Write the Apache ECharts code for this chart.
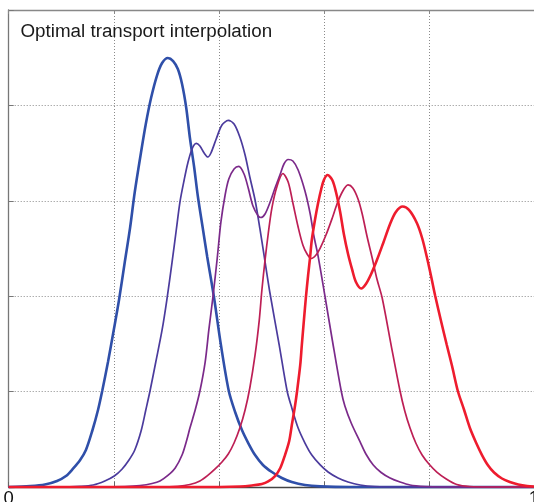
<!DOCTYPE html>
<html>
<head>
<meta charset="utf-8">
<script src="https://cdn.jsdelivr.net/npm/echarts@6/dist/echarts.min.js"></script>
<style>html,body{margin:0;padding:0;background:#fff;}#c{width:534px;height:502px;}</style>
</head>
<body>
<div id="c"></div>
<script>
var titleText = 'Optimal transport interpolation';
var xTickLabels = {0: '0', 1: '1'};

// t = 0 (blue)
var blueX = [0, 0.041, 0.069, 0.092, 0.109, 0.122, 0.136, 0.147, 0.159, 0.170, 0.178, 0.189, 0.200, 0.210, 0.221, 0.231, 0.240, 0.252, 0.261, 0.271, 0.282, 0.292, 0.303, 0.313, 0.322, 0.330, 0.338, 0.345, 0.353, 0.360, 0.370, 0.378, 0.391, 0.404, 0.419, 0.431, 0.444, 0.456, 0.469, 0.484, 0.501, 0.520, 0.539, 0.564, 0.593, 0.650, 1];
var blueY = [0, 0.010, 0.026, 0.063, 0.115, 0.189, 0.283, 0.388, 0.587, 0.807, 1.006, 1.310, 1.646, 1.960, 2.358, 2.715, 3.092, 3.511, 3.805, 4.077, 4.308, 4.444, 4.497, 4.465, 4.381, 4.224, 3.973, 3.658, 3.354, 3.050, 2.694, 2.411, 1.981, 1.488, 1.006, 0.786, 0.597, 0.461, 0.335, 0.231, 0.157, 0.094, 0.052, 0.021, 0.007, 0, 0];

// t = 0.25
var q1X = [0, 0.098, 0.136, 0.161, 0.183, 0.201, 0.216, 0.229, 0.240, 0.252, 0.261, 0.269, 0.280, 0.292, 0.301, 0.311, 0.319, 0.326, 0.334, 0.341, 0.349, 0.357, 0.364, 0.372, 0.379, 0.385, 0.395, 0.406, 0.418, 0.429, 0.440, 0.450, 0.459, 0.469, 0.478, 0.486, 0.497, 0.515, 0.530, 0.539, 0.551, 0.564, 0.577, 0.593, 0.608, 0.627, 0.646, 0.669, 0.697, 0.745, 1];
var q1Y = [0, 0, 0.007, 0.021, 0.063, 0.115, 0.189, 0.283, 0.388, 0.587, 0.807, 1.006, 1.310, 1.646, 1.960, 2.358, 2.694, 2.987, 3.218, 3.396, 3.543, 3.601, 3.574, 3.501, 3.459, 3.501, 3.648, 3.794, 3.842, 3.805, 3.669, 3.480, 3.249, 3.008, 2.715, 2.432, 2.044, 1.488, 1.006, 0.828, 0.618, 0.461, 0.335, 0.231, 0.157, 0.094, 0.052, 0.021, 0.005, 0, 0];

// t = 0.5
var q2X = [0, 0.174, 0.221, 0.250, 0.273, 0.288, 0.303, 0.317, 0.330, 0.339, 0.345, 0.355, 0.364, 0.374, 0.381, 0.389, 0.397, 0.404, 0.412, 0.419, 0.429, 0.438, 0.448, 0.456, 0.465, 0.475, 0.480, 0.488, 0.497, 0.507, 0.517, 0.524, 0.532, 0.541, 0.551, 0.564, 0.574, 0.581, 0.589, 0.602, 0.616, 0.633, 0.640, 0.652, 0.669, 0.680, 0.694, 0.709, 0.726, 0.745, 0.764, 0.793, 0.821, 1];
var q2Y = [0, 0, 0.005, 0.016, 0.037, 0.063, 0.121, 0.199, 0.335, 0.493, 0.618, 0.807, 1.006, 1.310, 1.646, 2.002, 2.400, 2.778, 3.061, 3.228, 3.333, 3.360, 3.281, 3.134, 2.945, 2.841, 2.825, 2.862, 2.977, 3.134, 3.281, 3.386, 3.433, 3.417, 3.323, 3.103, 2.862, 2.631, 2.421, 2.002, 1.541, 1.006, 0.849, 0.671, 0.472, 0.346, 0.231, 0.152, 0.094, 0.052, 0.021, 0.005, 0, 0];

// t = 0.75
var q3X = [0, 0.288, 0.322, 0.345, 0.364, 0.379, 0.393, 0.406, 0.418, 0.429, 0.440, 0.450, 0.459, 0.469, 0.477, 0.482, 0.488, 0.494, 0.501, 0.511, 0.522, 0.532, 0.541, 0.551, 0.560, 0.568, 0.576, 0.585, 0.593, 0.604, 0.616, 0.625, 0.635, 0.646, 0.655, 0.665, 0.673, 0.682, 0.692, 0.701, 0.711, 0.728, 0.745, 0.754, 0.764, 0.775, 0.787, 0.800, 0.815, 0.833, 0.853, 0.878, 0.916, 1];
var q3Y = [0, 0, 0.007, 0.026, 0.063, 0.121, 0.189, 0.262, 0.346, 0.461, 0.618, 0.807, 1.038, 1.384, 1.750, 2.065, 2.379, 2.652, 2.924, 3.155, 3.286, 3.197, 2.977, 2.725, 2.537, 2.442, 2.395, 2.432, 2.505, 2.641, 2.820, 2.966, 3.092, 3.166, 3.134, 3.019, 2.862, 2.631, 2.400, 2.180, 1.981, 1.488, 1.006, 0.797, 0.618, 0.461, 0.335, 0.241, 0.157, 0.084, 0.026, 0.005, 0, 0];

// t = 1 (red)
var redX = [0, 0.402, 0.440, 0.463, 0.482, 0.494, 0.507, 0.517, 0.526, 0.534, 0.539, 0.545, 0.549, 0.555, 0.558, 0.562, 0.566, 0.570, 0.574, 0.577, 0.583, 0.589, 0.595, 0.600, 0.607, 0.616, 0.623, 0.631, 0.638, 0.646, 0.654, 0.661, 0.671, 0.680, 0.690, 0.701, 0.713, 0.726, 0.737, 0.750, 0.762, 0.777, 0.787, 0.796, 0.804, 0.812, 0.823, 0.834, 0.844, 0.855, 0.867, 0.878, 0.890, 0.901, 0.912, 0.924, 0.939, 0.954, 0.970, 0.987, 1];
var redY = [0, 0, 0.005, 0.016, 0.031, 0.058, 0.115, 0.199, 0.335, 0.482, 0.650, 0.849, 1.006, 1.279, 1.488, 1.750, 2.002, 2.222, 2.421, 2.589, 2.799, 2.977, 3.124, 3.218, 3.270, 3.218, 3.092, 2.883, 2.652, 2.442, 2.275, 2.149, 2.081, 2.128, 2.233, 2.379, 2.558, 2.757, 2.883, 2.940, 2.904, 2.767, 2.610, 2.411, 2.212, 2.002, 1.740, 1.488, 1.268, 1.006, 0.807, 0.618, 0.461, 0.335, 0.231, 0.152, 0.089, 0.052, 0.026, 0.010, 0.005];

function pairs(xs, ys) { return xs.map(function (x, i) { return [x, ys[i]]; }); }

var curves = [
  {name: 't0', x: blueX, y: blueY, color: '#2f4fa9', w: 2.6},
  {name: 't25', x: q1X, y: q1Y, color: '#4b3b9d', w: 1.7},
  {name: 't50', x: q2X, y: q2Y, color: '#7b2a8a', w: 1.7},
  {name: 't75', x: q3X, y: q3Y, color: '#bd1f55', w: 1.7},
  {name: 't100', x: redX, y: redY, color: '#ee1c2e', w: 2.6}
];

var chart = echarts.init(document.getElementById('c'), null, {renderer: 'canvas'});
var font = 'Liberation Sans, Arial, Helvetica, sans-serif';
var dotted = {type: [1, 2], color: '#8a8a8a', width: 1};

chart.setOption({
  animation: false,
  backgroundColor: '#fff',
  title: {
    text: titleText, left: 20.5, top: 22, padding: 0,
    textStyle: {fontSize: 18.8, fontWeight: 'normal', color: '#1a1a1a', fontFamily: font}
  },
  grid: {left: 8.7, right: 0, top: 10, bottom: 15, containLabel: false, outerBoundsMode: 'none'},
  xAxis: [{
    type: 'value', min: 0, max: 1, interval: 0.2, position: 'bottom',
    axisLine: {show: true, lineStyle: {color: '#444', width: 1.3}},
    axisTick: {show: true, inside: true, length: 5, lineStyle: {color: '#666'}},
    splitLine: {show: true, lineStyle: dotted},
    axisLabel: {
      show: true, margin: 2, fontSize: 18.5, color: '#111', fontFamily: font,
      showMinLabel: true, showMaxLabel: true, hideOverlap: false,
      formatter: function (v) {
        if (Math.abs(v) < 1e-9) return xTickLabels[0];
        if (Math.abs(v - 1) < 1e-9) return xTickLabels[1];
        return '';
      }
    }
  }, {
    type: 'value', min: 0, max: 1, interval: 0.2, position: 'top',
    axisLine: {show: true, lineStyle: {color: '#888', width: 1.3}},
    axisTick: {show: true, inside: true, length: 4, lineStyle: {color: '#888'}},
    splitLine: {show: false}, axisLabel: {show: false}
  }],
  yAxis: [{
    type: 'value', min: 0, max: 5, interval: 1, position: 'left',
    axisLine: {show: true, lineStyle: {color: '#777', width: 1.3}},
    axisTick: {show: true, inside: true, length: 5, lineStyle: {color: '#777'}},
    splitLine: {show: true, lineStyle: dotted},
    axisLabel: {show: false}
  }],
  series: curves.map(function (c) {
    return {
      name: c.name, type: 'line', xAxisIndex: 0, yAxisIndex: 0,
      data: pairs(c.x, c.y), smooth: 0.3,
      showSymbol: false, symbol: 'none',
      lineStyle: {color: c.color, width: c.w}, clip: false
    };
  })
});
</script>
</body>
</html>
